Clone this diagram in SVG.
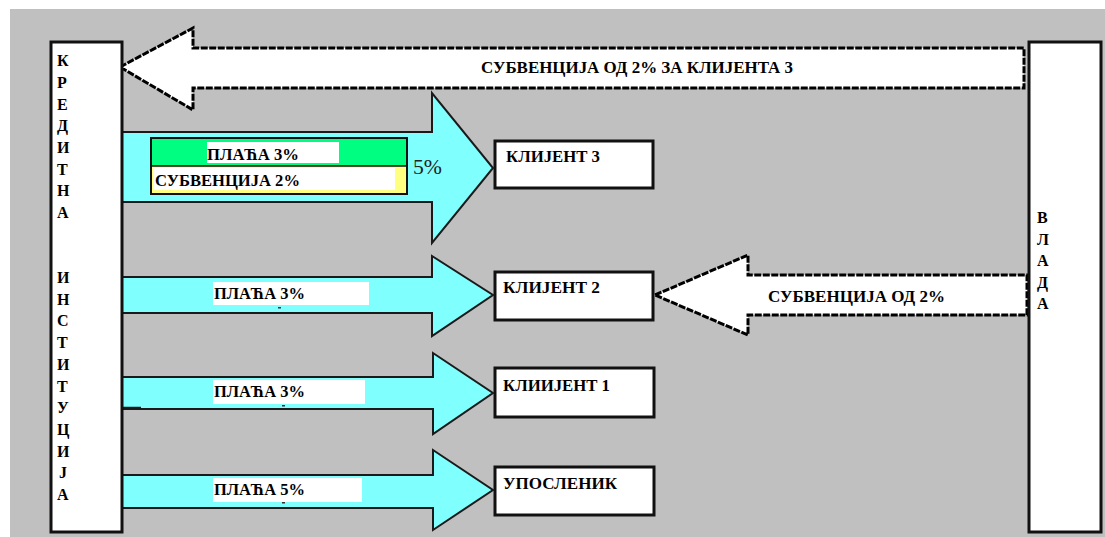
<svg xmlns="http://www.w3.org/2000/svg" width="1105" height="537" viewBox="0 0 1105 537">
<style>
.bg{fill:#c0c0c0}
.cy{fill:#80ffff;stroke:#1a1a1a;stroke-width:2;stroke-linejoin:miter}
.wa{fill:#ffffff;stroke:#000;stroke-width:3;stroke-dasharray:7 1.5;stroke-linejoin:miter}
.box{fill:#ffffff;stroke:#111;stroke-width:3}
.lbl{fill:#ffffff}
.t{font-family:"Liberation Serif","Times New Roman",serif;font-weight:bold;font-size:16px;fill:#000}
.v{font-family:"Liberation Serif","Times New Roman",serif;font-weight:bold;font-size:16px;fill:#000}
.n{font-family:"Liberation Serif","Times New Roman",serif;font-size:20px;fill:#222}
.dash{fill:#333}
</style>
<rect class="bg" x="10" y="9" width="1095" height="528"/>
<g id="connectors">
  <g id="arrow-subsidy-client3">
    <polygon class="wa" points="120,67 193,28 193,48 1024,48 1024,88 193,88 193,110"/>
    <text class="t" x="481" y="73" textLength="312" lengthAdjust="spacingAndGlyphs">СУБВЕНЦИЈА ОД 2% ЗА КЛИЈЕНТА 3</text>
  </g>
  <g id="arrow-client3">
    <polygon class="cy" points="122,132 432,132 432,93 493,168 432,243 432,202 122,202"/>
    <rect x="151" y="138" width="256" height="28" fill="#00ff80"/>
    <rect x="151" y="166" width="256" height="28" fill="#ffff80"/>
    <rect class="lbl" x="207" y="142" width="132" height="21"/>
    <rect class="lbl" x="153" y="168" width="242" height="22"/>
    <rect x="151" y="138" width="256" height="56" fill="none" stroke="#111" stroke-width="2"/>
    <line x1="151" y1="166" x2="407" y2="166" stroke="#111" stroke-width="1.5"/>
    <text class="t" x="207" y="160" textLength="92" lengthAdjust="spacingAndGlyphs">ПЛАЋА 3%</text>
    <text class="t" x="155" y="186" textLength="145" lengthAdjust="spacingAndGlyphs">СУБВЕНЦИЈА 2%</text>
    <text class="n" x="413" y="174" textLength="29" lengthAdjust="spacingAndGlyphs">5%</text>
  </g>
  <g id="arrow-client2">
    <polygon class="cy" points="122,277 432,277 432,256 493,295 432,336 432,313 122,313"/>
    <rect class="lbl" x="213" y="282" width="156" height="23"/>
    <text class="t" x="214" y="299" textLength="91" lengthAdjust="spacingAndGlyphs">ПЛАЋА 3%</text>
    <rect class="dash" x="278" y="307" width="3" height="1.5"/>
  </g>
  <g id="arrow-subsidy-client2">
    <polygon class="wa" points="655,295 748,255 748,275 1027,275 1027,315 748,315 748,335"/>
    <text class="t" x="768" y="302" textLength="177" lengthAdjust="spacingAndGlyphs">СУБВЕНЦИЈА ОД 2%</text>
  </g>
  <g id="arrow-client1">
    <polygon class="cy" points="122,377 433,377 433,353 493,393 433,434 433,409 122,409"/>
    <line x1="122" y1="407.5" x2="141" y2="407.5" stroke="#1a1a1a" stroke-width="1.5"/>
    <rect class="lbl" x="213" y="380" width="152" height="24"/>
    <text class="t" x="214" y="397" textLength="91" lengthAdjust="spacingAndGlyphs">ПЛАЋА 3%</text>
    <rect class="dash" x="282" y="405" width="3" height="1.5"/>
  </g>
  <g id="arrow-employee">
    <polygon class="cy" points="122,475 433,475 433,450 493,490 433,530 433,508 122,508"/>
    <rect class="lbl" x="213" y="478" width="149" height="24"/>
    <text class="t" x="214" y="495" textLength="91" lengthAdjust="spacingAndGlyphs">ПЛАЋА 5%</text>
    <rect class="dash" x="282" y="502" width="3" height="1.5"/>
  </g>
</g>
<g id="kreditna-institucija">
  <rect class="box" x="51" y="42" width="71" height="490"/>
  <text class="v" x="57" y="66">К</text>
  <text class="v" x="57" y="88">Р</text>
  <text class="v" x="57" y="110">Е</text>
  <text class="v" x="57" y="131">Д</text>
  <text class="v" x="57" y="153">И</text>
  <text class="v" x="57" y="175">Т</text>
  <text class="v" x="57" y="196">Н</text>
  <text class="v" x="57" y="218">А</text>
  <text class="v" x="57" y="283">И</text>
  <text class="v" x="57" y="305">Н</text>
  <text class="v" x="57" y="326">С</text>
  <text class="v" x="57" y="348">Т</text>
  <text class="v" x="57" y="370">И</text>
  <text class="v" x="57" y="392">Т</text>
  <text class="v" x="57" y="413">У</text>
  <text class="v" x="57" y="435">Ц</text>
  <text class="v" x="57" y="457">И</text>
  <text class="v" x="59" y="478">Ј</text>
  <text class="v" x="57" y="500">А</text>
</g>
<g id="vlada">
  <rect class="box" x="1029" y="42" width="72" height="490"/>
  <text class="v" x="1037" y="223">В</text>
  <text class="v" x="1037" y="245">Л</text>
  <text class="v" x="1037" y="266">А</text>
  <text class="v" x="1037" y="288">Д</text>
  <text class="v" x="1037" y="309">А</text>
</g>
<g id="klijent3">
  <rect class="box" x="495" y="141" width="158" height="47"/>
  <text class="t" x="506" y="162" textLength="94" lengthAdjust="spacingAndGlyphs">КЛИЈЕНТ 3</text>
</g>
<g id="klijent2">
  <rect class="box" x="495" y="272" width="158" height="48"/>
  <text class="t" x="503" y="293" textLength="97" lengthAdjust="spacingAndGlyphs">КЛИЈЕНТ 2</text>
</g>
<g id="klijent1">
  <rect class="box" x="495" y="368" width="159" height="49"/>
  <text class="t" x="503" y="391" textLength="107" lengthAdjust="spacingAndGlyphs">КЛИИЈЕНТ 1</text>
</g>
<g id="uposlenik">
  <rect class="box" x="495" y="467" width="159" height="48"/>
  <text class="t" x="503" y="489" textLength="114" lengthAdjust="spacingAndGlyphs">УПОСЛЕНИК</text>
</g>
</svg>
